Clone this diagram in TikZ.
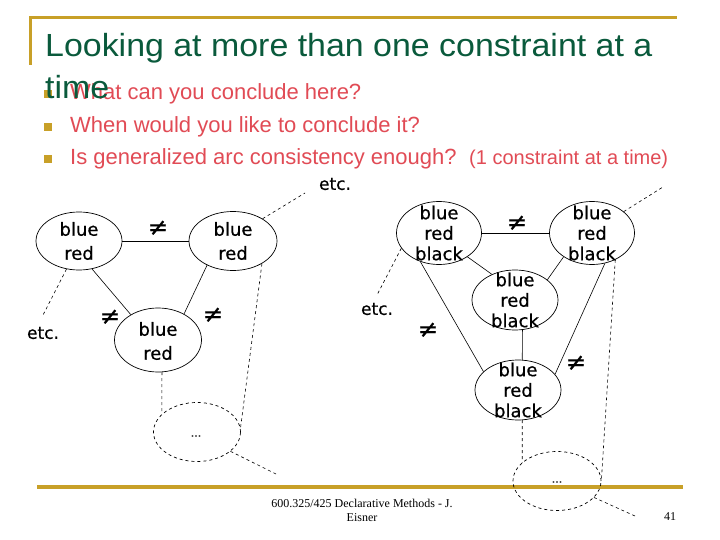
\documentclass[tikz,border=0pt]{standalone}
\usepackage{fontspec}
\setmainfont{Liberation Sans}
\newfontfamily\titlef[FakeStretch=1.06]{Liberation Sans}
\newfontfamily\comicf[FakeBold=0.6]{DejaVu Sans}
\newfontfamily\serff{Liberation Serif}
\usetikzlibrary{shapes.geometric}
\definecolor{gold}{RGB}{200,160,40}
\definecolor{titlegreen}{RGB}{10,90,60}
\definecolor{bulletred}{RGB}{225,75,85}
\begin{document}
\begin{tikzpicture}[x=1pt,y=-1pt,
 var/.style={draw, ellipse, inner sep=0pt, line width=0.7pt},
 dvar/.style={var, dashed},
 lab/.style={font=\comicf\fontsize{18}{24}\selectfont, align=center, inner sep=0pt},
 labthree/.style={font=\comicf\fontsize{18}{20.5}\selectfont, align=center, inner sep=0pt},
 neq/.style={font=\comicf\fontsize{24}{24}\selectfont, inner sep=0pt},
 etcl/.style={font=\comicf\fontsize{17}{17}\selectfont, inner sep=0pt},
 dots/.style={font=\comicf\fontsize{11}{11}\selectfont, inner sep=0pt},
 con/.style={line width=0.6pt},
 dcon/.style={line width=0.6pt, dashed},
 goldline/.style={gold, line width=3pt},
 bsq/.style={fill=gold, draw=none, minimum size=8pt, inner sep=0pt},
 btext/.style={anchor=base west, inner sep=0pt, text=bulletred, font=\fontsize{22}{22}\selectfont},
 ttext/.style={anchor=base west, inner sep=0pt, text=titlegreen, font=\titlef\fontsize{32}{32}\selectfont},
 foot/.style={font=\serff\fontsize{12}{14}\selectfont, inner sep=0pt, align=center}
]
\useasboundingbox (0,0) rectangle (720,540);
\fill[white] (0,0) rectangle (720,540);

% frame lines
\coordinate (tl) at (29,18);
\coordinate (tr) at (677,18);
\coordinate (vt) at (30,16.5);
\coordinate (vl) at (30,65);
\draw[goldline] (tl) -- (tr);
\draw[goldline] (vt) -- (vl);
\coordinate (bl) at (37,487);
\coordinate (br) at (683,487);
\draw[gold, line width=4pt] (bl) -- (br);

% bullets
\node[bsq] (b1) at (48,94) {};
\node[bsq] (b2) at (48,127) {};
\node[bsq] (b3) at (48,159) {};
\node[btext] (t1) at (70,100) {What can you conclude here?};
\node[btext] (t2) at (70,132.5) {When would you like to conclude it?};
\node[btext] (t3) at (70,165) {Is generalized arc consistency enough?};
\node[btext, font=\fontsize{20}{20}\selectfont] (t4) at (469,165) {(1 constraint at a time)};

% title
\node[ttext] (title1) at (45,57) {Looking at more than one constraint at a};
\node[ttext] (title2) at (45,99) {time};

% left graph
\node[var, minimum width=86pt, minimum height=58pt] (A) at (79,241) {};
\node[var, minimum width=88pt, minimum height=59pt] (B) at (233,241) {};
\node[var, minimum width=87pt, minimum height=64pt] (C) at (158,340) {};
\node[dvar, minimum width=87pt, minimum height=59pt] (D) at (197,432) {};
\node[lab] (At) at (79,241) {blue\\red};
\node[lab] (Bt) at (233,241) {blue\\red};
\node[lab] (Ct) at (158,341) {blue\\red};
\node[dots] (Dt) at (196,436) {...};

\draw[con] (A.east) -- (B.west);
\draw[con] (A.-65.9) -- (C.137.5);
\draw[con] (B.-137.4) -- (C.45);
\node[neq] (n1) at (158,228) {≠};
\node[neq] (n2) at (110,317) {≠};
\node[neq] (n3) at (213,315) {≠};

\coordinate (Ae) at (42,317);
\node[etcl] (Aetc) at (43,333) {etc.};
\draw[dcon] (A.246.4) -- (Ae);
\coordinate (Be) at (305,193);
\node[etcl] (Betc) at (335,184) {etc.};
\draw[dcon] (B.37.6) -- (Be);
\draw[dcon] (C.-83) -- (D.153.4);
\draw[dcon] (B.-38.7) -- (D.5.4);
\coordinate (De) at (276,474);
\draw[dcon] (D.-30.3) -- (De);

% right graph
\node[var, minimum width=85pt, minimum height=63pt] (E) at (439,233) {};
\node[var, minimum width=85pt, minimum height=63pt] (F) at (592,233) {};
\node[var, minimum width=86pt, minimum height=60pt] (G) at (515,300) {};
\node[var, minimum width=86pt, minimum height=60pt] (H) at (518,390) {};
\node[dvar, minimum width=88pt, minimum height=59pt] (I) at (557,481) {};
\node[labthree] (Et) at (439,233) {blue\\red\\black};
\node[labthree] (Ft) at (592,233) {blue\\red\\black};
\node[labthree] (Gt) at (515,300) {blue\\red\\black};
\node[labthree] (Ht) at (518,390) {blue\\red\\black};
\node[dots] (It) at (557,482) {...};

\draw[con] (E.east) -- (F.west);
\draw[con] (E.-40.8) -- (G.132.6);
\draw[con] (F.220.8) -- (G.32);
\draw[con] (G.-76.7) -- (H.82.4);
\draw[con] (E.237.7) -- (H.152.2);
\draw[con] (F.-67.9) -- (H.23);
\node[neq] (n4) at (517,223) {≠};
\node[neq] (n5) at (428,330) {≠};
\node[neq] (n6) at (576,363) {≠};

\coordinate (Ee) at (377,295);
\node[etcl] (Eetc) at (377,309) {etc.};
\draw[dcon] (E.202) -- (Ee);
\coordinate (Fe) at (663,187);
\draw[dcon] (F.34.8) -- (Fe);
\draw[dcon] (H.-82.4) -- (I.152.9);
\draw[dcon] (F.-49.2) -- (I.0);
\coordinate (Ie) at (635,516);
\draw[dcon] (I.-24) -- (Ie);

% footer
\node[foot] (f1) at (362,510) {600.325/425 Declarative Methods - J.\\Eisner};
\node[foot] (f2) at (670,517) {41};
\end{tikzpicture}
\end{document}
